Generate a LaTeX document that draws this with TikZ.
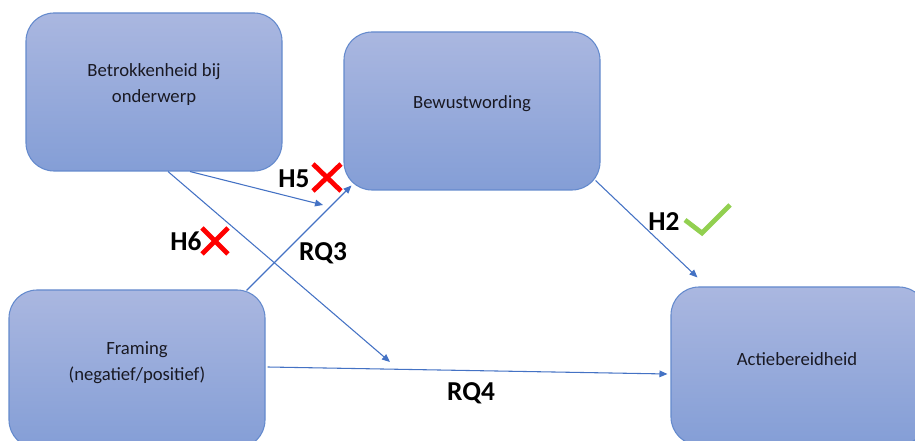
\documentclass[tikz,border=0pt]{standalone}
\usepackage{fontspec}
\setmainfont{Carlito}
\usetikzlibrary{arrows.meta,calc}

\definecolor{boxtop}{RGB}{170,183,224}
\definecolor{boxbot}{RGB}{132,158,214}
\definecolor{boxline}{RGB}{100,138,205}
\definecolor{linkblue}{RGB}{68,114,196}
\definecolor{crossred}{RGB}{255,0,0}
\definecolor{tickgreen}{RGB}{146,208,80}
\definecolor{boxtext}{RGB}{25,25,35}

\tikzset{
  blk/.style={draw=boxline, line width=0.8pt, rounded corners=21pt,
    top color=boxtop, bottom color=boxbot,
    minimum width=192pt, minimum height=118.5pt, inner sep=0pt},
  blktext/.style={font=\fontsize{14}{19.5}\selectfont, align=center, text=boxtext},
  link/.style={draw=linkblue, line width=0.8pt,
    -{Triangle[length=6pt,width=5pt]}},
  lbl/.style={font=\bfseries\fontsize{20.5}{23}\selectfont, text=black, inner sep=0pt},
  cross/.style={draw=crossred, line width=3.6pt},
  tick/.style={draw=tickgreen, line width=3.6pt},
}

\begin{document}
\begin{tikzpicture}[x=0.75pt,y=-0.75pt]
  \useasboundingbox (0,0) rectangle (915,441);
  \clip (0,0) rectangle (915,441);

  % blocks
  \node[blk] (b1) at (154,92) {};
  \node[blk] (b2) at (472,111) {};
  \node[blk] (b3) at (137,369) {};
  \node[blk] (b4) at (799,366) {};

  \node[blktext] (t1) at ($(b1.center)+(0,-7)$) {Betrokkenheid bij\\onderwerp};
  \node[blktext] (t2) at ($(b2.center)+(0,-7)$) {Bewustwording};
  \node[blktext] (t3) at ($(b3.center)+(0,-6)$) {Framing\\(negatief/positief)};
  \node[blktext] (t4) at ($(b4.center)+(-2,-7)$) {Actiebereidheid};

  % free arrow ends
  \coordinate (h5end) at (323,205);
  \coordinate (h6end) at (390,362);

  % connectors
  \draw[link] ($(b1.south)+(36,0)$) -- (h5end);
  \draw[link] ($(b1.south)+(14,0)$) -- (h6end);
  \draw[link] ($(b3.north east)+(-19,1)$) -- ($(b2.south west)+(8,-5)$);
  \draw[link] ($(b2.south east)+(-5,-10)$) -- ($(b4.north west)+(27,-9)$);
  \draw[link] ($(b3.east)+(2,-2)$) -- ($(b4.west)+(-3,8)$);

  % labels
  \node[lbl] (h5) at (294,179) {H5};
  \node[lbl] (h6) at (186,241) {H6};
  \node[lbl] (rq3) at (323,253) {RQ3};
  \node[lbl] (h2) at (664,222) {H2};
  \node[lbl] (rq4) at (471,393) {RQ4};

  % verdict marks
  \draw[cross] (313,164) -- (341,191) (341,164) -- (313,191);
  \draw[cross] (202,228) -- (228,254) (228,228) -- (202,254);
  \draw[tick] (685,220) -- (702,233) -- (730,205);
\end{tikzpicture}
\end{document}
